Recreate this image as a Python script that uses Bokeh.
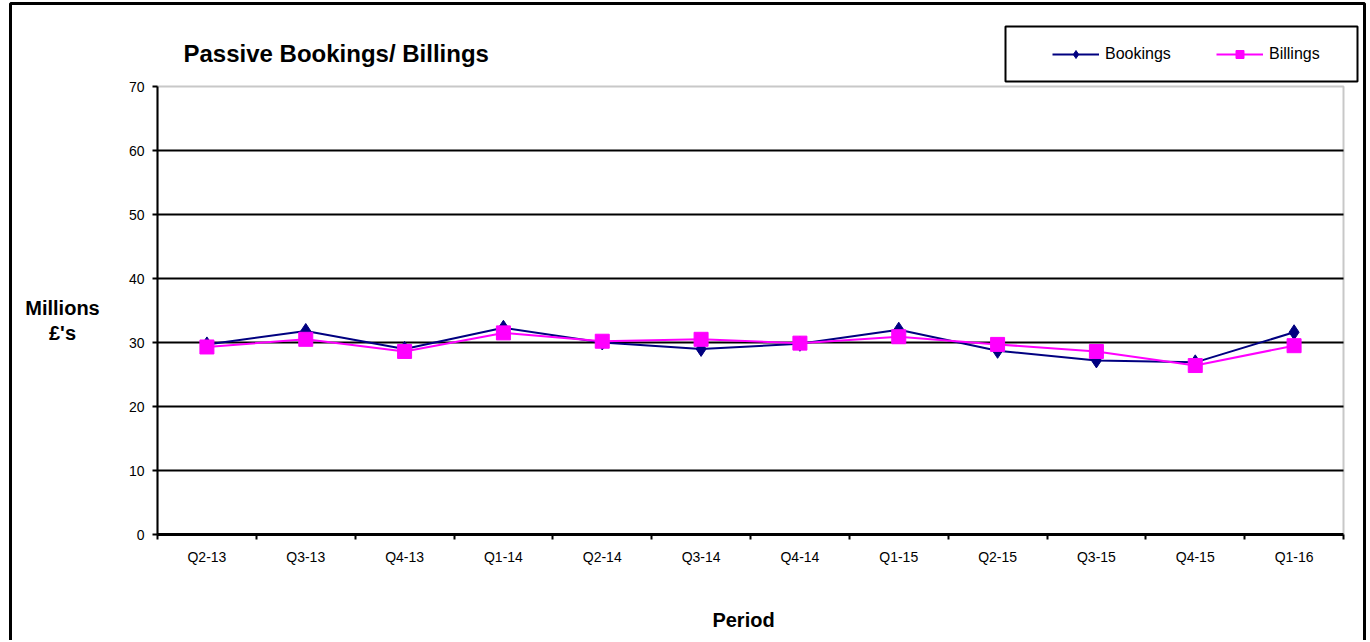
from bokeh.plotting import figure
from bokeh.models import (FixedTicker, Label, Legend, LegendItem, BoxAnnotation, Range1d)
from bokeh.embed import file_html
from bokeh.resources import INLINE

periods = ["Q2-13", "Q3-13", "Q4-13", "Q1-14", "Q2-14", "Q3-14", "Q4-14",
           "Q1-15", "Q2-15", "Q3-15", "Q4-15", "Q1-16"]
bookings = [29.7, 31.8, 29.0, 32.3, 30.0, 29.0, 29.8, 32.0, 28.7, 27.2, 26.9, 31.6]
billings = [29.3, 30.5, 28.6, 31.5, 30.2, 30.5, 29.9, 30.9, 29.7, 28.6, 26.4, 29.5]
y_ticks = [0, 10, 20, 30, 40, 50, 60, 70]

FONT = "Liberation Sans"
W, H = 1368, 640
# plot-area placement on the canvas (pixels)
PL, PR, PT, PB = 157, 1343, 86, 534
n = len(periods)
xs = list(range(n))
ymin, ymax = y_ticks[0], y_ticks[-1]
xlo, xhi = -0.5, n - 0.5
pxx = (PR - PL) / (xhi - xlo)
pxy = (PB - PT) / (ymax - ymin)

def sy(page_y):
    return H - page_y

p = figure(width=W, height=H, output_backend="svg", toolbar_location=None,
           x_range=Range1d(xlo - PL / pxx, xhi + (W - PR) / pxx),
           y_range=Range1d(ymin - (H - PB) / pxy, ymax + PT / pxy),
           min_border=0, min_border_left=0, min_border_right=0,
           min_border_top=0, min_border_bottom=0,
           background_fill_color="white", border_fill_color="white")
p.outline_line_color = None
p.xgrid.visible = False
p.ygrid.visible = False

# plot-area border (grey) drawn under everything
p.add_layout(BoxAnnotation(left=xlo, right=xhi, bottom=ymin, top=ymax, level="underlay",
                           fill_alpha=0, line_color="#c8c8c8", line_alpha=1, line_width=2))
# horizontal grid lines
grid_vals = y_ticks[1:-1]
p.segment(x0=[xlo] * len(grid_vals), x1=[xhi] * len(grid_vals), y0=grid_vals, y1=grid_vals,
          line_color="black", line_width=2)

# axes
xa = p.xaxis[0]
xa.fixed_location = ymin
xa.bounds = (xlo, xhi)
xa.ticker = FixedTicker(ticks=xs, minor_ticks=[i - 0.5 for i in range(n + 1)])
xa.major_label_overrides = {i: lab for i, lab in enumerate(periods)}
xa.major_tick_out = 0
xa.major_tick_in = 0
xa.minor_tick_out = 5
xa.minor_tick_in = 0
xa.minor_tick_line_width = 2
xa.minor_tick_line_color = "black"
xa.axis_line_width = 3
xa.axis_line_color = "black"
xa.major_label_text_font = FONT
xa.major_label_text_font_size = "14px"
xa.major_label_text_color = "black"
xa.major_label_standoff = 9

ya = p.yaxis[0]
ya.fixed_location = xlo
ya.bounds = (ymin, ymax)
ya.ticker = FixedTicker(ticks=y_ticks, minor_ticks=[])
ya.major_tick_out = 5
ya.major_tick_in = 0
ya.major_tick_line_width = 2
ya.major_tick_line_color = "black"
ya.minor_tick_line_color = None
ya.axis_line_width = 2
ya.axis_line_color = "black"
ya.major_label_text_font = FONT
ya.major_label_text_font_size = "14px"
ya.major_label_text_color = "black"
ya.major_label_standoff = 8

# series
bl = p.line(xs, bookings, line_color="#000080", line_width=2)
bm = p.scatter(xs, bookings, marker="diamond", size=15, fill_color="#000080", line_color="#000080")
il = p.line(xs, billings, line_color="#FF00FF", line_width=2)
im = p.scatter(xs, billings, marker="square", size=14, fill_color="#FF00FF", line_color="#FF00FF")

legend = Legend(items=[LegendItem(label="Bookings", renderers=[bl, bm]),
                       LegendItem(label="Billings", renderers=[il, im])],
                location=(1052, sy(64)), orientation="horizontal",
                padding=0, margin=0, spacing=11, label_standoff=6,
                glyph_width=47, glyph_height=20, label_height=20, label_width=100,
                label_text_font=FONT, label_text_font_size="16px", label_text_color="black",
                border_line_color=None, background_fill_alpha=0)
p.add_layout(legend, "center")

# legend box
p.add_layout(BoxAnnotation(left=1005, right=1357, top=sy(26), bottom=sy(81),
                           left_units="screen", right_units="screen",
                           top_units="screen", bottom_units="screen",
                           fill_alpha=0, line_color="black", line_alpha=1, line_width=2))
# outer frame
p.add_layout(BoxAnnotation(left=10, right=1364, top=sy(3), bottom=-20,
                           left_units="screen", right_units="screen",
                           top_units="screen", bottom_units="screen",
                           fill_alpha=0, line_color="black", line_alpha=1, line_width=3))

# texts
p.add_layout(Label(x=183, y=sy(53), x_units="screen", y_units="screen",
                   text="Passive Bookings/ Billings", text_font=FONT, text_color="black",
                   text_font_size="24px", text_font_style="bold", text_baseline="alphabetic"))
p.add_layout(Label(x=62, y=sy(307), x_units="screen", y_units="screen",
                   text="Millions", text_font=FONT, text_align="center", text_color="black",
                   text_font_size="20px", text_font_style="bold", text_baseline="alphabetic"))
p.add_layout(Label(x=62, y=sy(332), x_units="screen", y_units="screen",
                   text="£'s", text_font=FONT, text_align="center", text_color="black",
                   text_font_size="20px", text_font_style="bold", text_baseline="alphabetic"))
p.add_layout(Label(x=743, y=sy(619), x_units="screen", y_units="screen",
                   text="Period", text_font=FONT, text_align="center", text_color="black",
                   text_font_size="20px", text_font_style="bold", text_baseline="alphabetic"))

open("out.html", "w").write(file_html(p, INLINE))
